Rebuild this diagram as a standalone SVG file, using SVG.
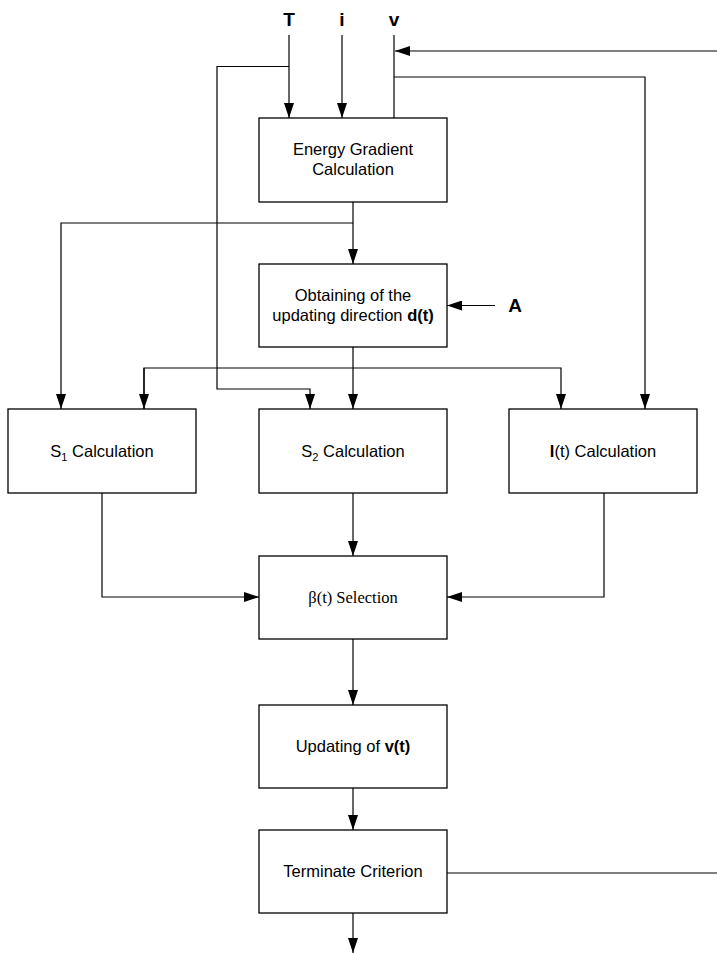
<svg xmlns="http://www.w3.org/2000/svg" width="717" height="953" viewBox="0 0 717 953">
<style>
.box{fill:#fff;stroke:#000;stroke-width:1.3}
.t{font-family:"Liberation Sans",Arial,sans-serif;font-size:16.5px;fill:#000;text-anchor:middle}
.tr{font-family:"Liberation Serif","Times New Roman",serif;font-size:16.5px;fill:#000;text-anchor:middle}
.lbl{font-family:"Liberation Sans",Arial,sans-serif;font-size:19px;font-weight:bold;fill:#000;text-anchor:middle}
.c{fill:none;stroke:#000;stroke-width:1.2}
.a{marker-end:url(#arr)}
</style>
<defs>
<marker id="arr" markerUnits="userSpaceOnUse" markerWidth="15" markerHeight="10" refX="15" refY="5" orient="auto">
<path d="M0,0 L15,5 L0,10 z" fill="#000"/>
</marker>
</defs>
<rect width="717" height="953" fill="#fff"/>
<g id="connectors">
<line class="c a" x1="289" y1="35" x2="289" y2="118"/>
<line class="c a" x1="342" y1="35" x2="342" y2="118"/>
<line class="c" x1="394" y1="35" x2="394" y2="118"/>
<line class="c a" x1="717" y1="51" x2="395" y2="51"/>
<polyline class="c a" points="289,66.5 217,66.5 217,389 310,389 310,409"/>
<polyline class="c a" points="394,77 645,77 645,409"/>
<line class="c a" x1="353" y1="202" x2="353" y2="264"/>
<polyline class="c a" points="353,223 61,223 61,409"/>
<line class="c a" x1="353" y1="347" x2="353" y2="409"/>
<polyline class="c a" points="144,409 144,368 561,368 561,409" style="marker-end:url(#arr);marker-start:none"/>
<line class="c a" x1="144" y1="368" x2="144" y2="409"/>
<line class="c a" x1="495" y1="305.5" x2="447" y2="305.5"/>
<polyline class="c a" points="102,493 102,597 259,597"/>
<line class="c a" x1="353" y1="493" x2="353" y2="556"/>
<polyline class="c a" points="604,493 604,597 447,597"/>
<line class="c a" x1="353" y1="639" x2="353" y2="705"/>
<line class="c a" x1="353" y1="788" x2="353" y2="830"/>
<line class="c a" x1="353" y1="913" x2="353" y2="953"/>
<line class="c" x1="447" y1="873" x2="717" y2="873"/>
</g>
<g id="input-T"><text class="lbl" x="289" y="26">T</text></g>
<g id="input-i"><text class="lbl" x="342" y="26">i</text></g>
<g id="input-v"><text class="lbl" x="394" y="26">v</text></g>
<g id="input-A"><text class="lbl" x="515" y="312">A</text></g>
<g id="energy-gradient">
<rect class="box" x="259" y="118" width="188" height="84"/>
<text class="t" x="353" y="155">Energy Gradient</text>
<text class="t" x="353" y="175">Calculation</text>
</g>
<g id="direction">
<rect class="box" x="259" y="264" width="188" height="83"/>
<text class="t" x="353" y="301">Obtaining of the</text>
<text class="t" x="353" y="321">updating direction <tspan font-weight="bold">d(t)</tspan></text>
</g>
<g id="s1">
<rect class="box" x="8" y="409" width="188" height="84"/>
<text class="t" x="102" y="457">S<tspan font-size="11" dy="4">1</tspan><tspan dy="-4"> Calculation</tspan></text>
</g>
<g id="s2">
<rect class="box" x="259" y="409" width="188" height="84"/>
<text class="t" x="353" y="457">S<tspan font-size="11" dy="4">2</tspan><tspan dy="-4"> Calculation</tspan></text>
</g>
<g id="it">
<rect class="box" x="509" y="409" width="188" height="84"/>
<text class="t" x="603" y="457"><tspan font-weight="bold">I</tspan>(t) Calculation</text>
</g>
<g id="beta">
<rect class="box" x="259" y="556" width="188" height="83"/>
<text class="tr" x="353" y="603">β(t) Selection</text>
</g>
<g id="update">
<rect class="box" x="259" y="705" width="188" height="83"/>
<text class="t" x="353" y="752">Updating of <tspan font-weight="bold">v(t)</tspan></text>
</g>
<g id="terminate">
<rect class="box" x="259" y="830" width="188" height="83"/>
<text class="t" x="353" y="877">Terminate Criterion</text>
</g>
</svg>
